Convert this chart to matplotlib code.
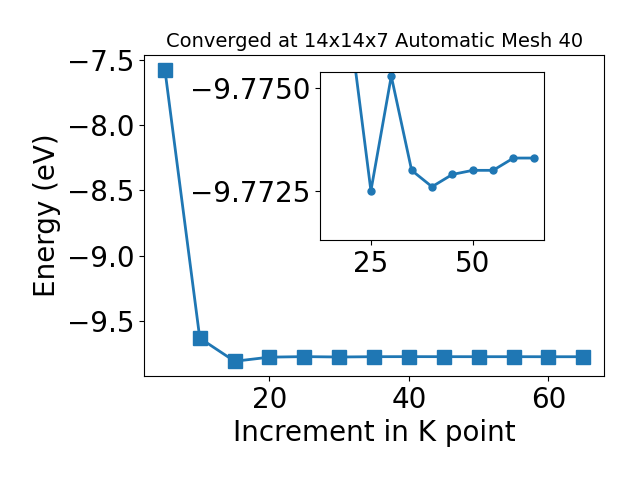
import matplotlib
matplotlib.use("Agg")
import matplotlib.pyplot as plt

# k point increments and total energies
kpoints = [5, 10, 15, 20, 25, 30, 35, 40, 45, 50, 55, 60, 65]
energy = [-7.577, -9.631, -9.808, -9.7764, -9.7725, -9.7753, -9.7730,
          -9.7726, -9.7729, -9.7730, -9.7730, -9.7733, -9.7733]

# inset shows from 15 onwards
k_zoom = kpoints[2:]
e_zoom = energy[2:]

fig = plt.figure(figsize=(6.4, 4.8), dpi=100)
ax = fig.add_subplot(111)
ax.plot(kpoints, energy, marker='s', markersize=10, linewidth=2, color='#1f77b4')
ax.set_xlabel('Increment in K point', fontsize=20)
ax.set_ylabel('Energy (eV)', fontsize=20)
ax.set_title('Converged at 14x14x7 Automatic Mesh 40', fontsize=14)
ax.tick_params(labelsize=20)
fig.subplots_adjust(left=0.225, right=0.944, top=0.885, bottom=0.217)

# inset
ins = fig.add_axes([0.5, 0.5, 0.35, 0.35])
ins.plot(k_zoom, e_zoom, marker='o', markersize=5, linewidth=2, color='#1f77b4')
ins.set_ylim(-9.7713, -9.7754)
ins.set_yticks([-9.7750, -9.7725])
ins.set_xticks([25, 50])
ins.tick_params(labelsize=20)

plt.savefig('out.png')
